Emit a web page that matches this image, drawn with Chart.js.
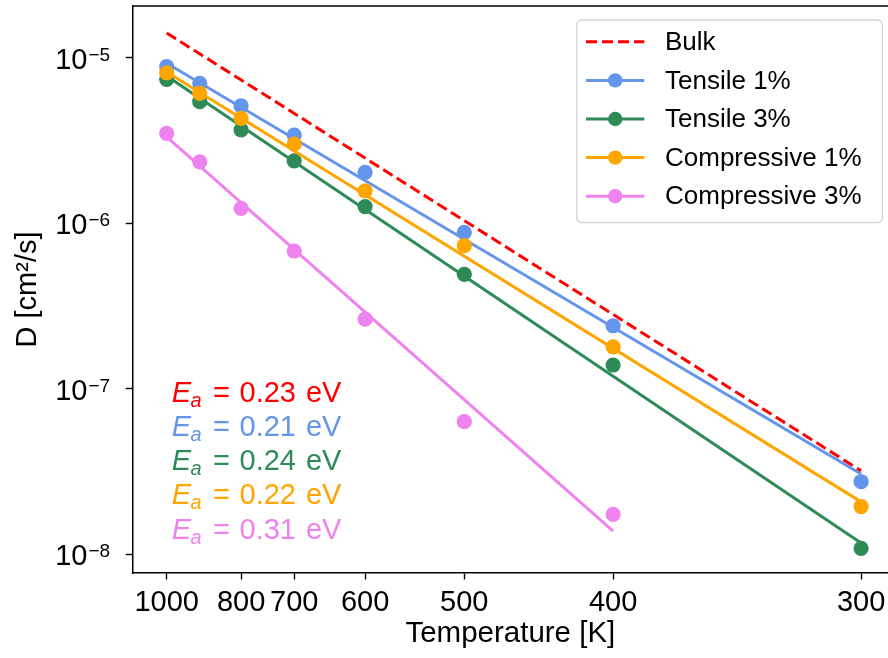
<!DOCTYPE html>
<html><head><meta charset="utf-8">
<script src="https://cdn.jsdelivr.net/npm/chart.js@4.4.0/dist/chart.umd.min.js"></script>
<style>html,body{margin:0;padding:0;background:#fff;overflow:hidden}canvas{display:block}</style>
</head><body>
<canvas id="c" width="888" height="658"></canvas>
<script>
// ---------- data ----------
const temperatures  = [1000, 900, 800, 700, 600, 500, 400, 300];
const tensile1      = [8.82e-6, 7.00e-6, 5.11e-6, 3.41e-6, 2.03e-6, 8.81e-7, 2.40e-7, 2.74e-8];
const tensile3      = [7.40e-6, 5.42e-6, 3.66e-6, 2.38e-6, 1.26e-6, 4.91e-7, 1.39e-7, 1.085e-8];
const compressive1  = [8.11e-6, 6.09e-6, 4.30e-6, 3.01e-6, 1.57e-6, 7.31e-7, 1.79e-7, 1.94e-8];
const compressive3  = [3.49e-6, 2.35e-6, 1.23e-6, 6.79e-7, 2.63e-7, 6.32e-8, 1.74e-8, null];

// fitted Arrhenius lines (end points)
const fitTemps        = [1000, 300];
const fitTempsComp3   = [1000, 400];
const bulkFit         = [1.41e-5, 3.19e-8];
const tensile1Fit     = [9.25e-6, 3.05e-8];
const tensile3Fit     = [7.75e-6, 1.17e-8];
const compressive1Fit = [8.20e-6, 2.07e-8];
const compressive3Fit = [3.32e-6, 1.38e-8];

const seriesNames = ['Bulk', 'Tensile 1%', 'Tensile 3%', 'Compressive 1%', 'Compressive 3%'];
const eaValues    = ['0.23', '0.21', '0.24', '0.22', '0.31'];
const xTickTemps  = [1000, 800, 700, 600, 500, 400, 300];
const xTickLabels = ['1000', '800', '700', '600', '500', '400', '300'];
const yTickExponents = [-5, -6, -7, -8];

// ---------- styles ----------
const COLORS = ['#ff0000', '#6495ed', '#2e8b57', '#ffa500', '#ee82ee'];
const FAM = "'Liberation Sans', Arial, Helvetica, sans-serif";
const MARKER_R = 7.6, LW = 3, DASH = [11, 5];

const inv = T => 1000 / T;
function pts(temps, vals) {
  return temps.map((t, i) => ({x: inv(t), y: vals[i]})).filter(p => p.y != null);
}
function lineDs(label, temps, vals, color, order, dash) {
  return {label, data: pts(temps, vals), showLine: true, borderColor: color, backgroundColor: color,
          borderWidth: LW, borderDash: dash || [], pointRadius: 0, order, borderCapStyle: 'butt'};
}
function pointDs(label, temps, vals, color, order) {
  return {label, data: pts(temps, vals), showLine: false, backgroundColor: color, borderColor: color,
          borderWidth: 0, pointRadius: MARKER_R, pointHoverRadius: MARKER_R, order};
}

const datasets = [
  lineDs('Bulk', fitTemps, bulkFit, COLORS[0], 0, DASH),
  pointDs('Compressive 3%', temperatures, compressive3, COLORS[4], 1),
  lineDs('Compressive 3% fit', fitTempsComp3, compressive3Fit, COLORS[4], 2),
  pointDs('Compressive 1%', temperatures, compressive1, COLORS[3], 3),
  lineDs('Compressive 1% fit', fitTemps, compressive1Fit, COLORS[3], 4),
  pointDs('Tensile 3%', temperatures, tensile3, COLORS[2], 5),
  lineDs('Tensile 3% fit', fitTemps, tensile3Fit, COLORS[2], 6),
  pointDs('Tensile 1%', temperatures, tensile1, COLORS[1], 7),
  lineDs('Tensile 1% fit', fitTemps, tensile1Fit, COLORS[1], 8),
];

// ---------- plugins ----------
const framePlugin = {
  id: 'frame',
  afterDraw(chart) {
    const {ctx, chartArea: a} = chart;
    ctx.save();
    ctx.strokeStyle = '#000'; ctx.lineWidth = 1.5;
    ctx.beginPath(); ctx.moveTo(a.left - 0.75, a.top); ctx.lineTo(a.right + 2, a.top); ctx.stroke();
    ctx.restore();
  }
};

const yLabelPlugin = {
  id: 'yLabels',
  afterDraw(chart) {
    const ctx = chart.ctx, ys = chart.scales.y;
    ctx.save();
    ctx.fillStyle = '#000';
    ctx.textBaseline = 'alphabetic';
    yTickExponents.forEach(e => {
      const py = ys.getPixelForValue(Math.pow(10, e));
      ctx.font = `29px ${FAM}`;
      ctx.textAlign = 'right';
      ctx.fillText('10', 87.5, py + 11);
      ctx.font = `19px ${FAM}`;
      ctx.textAlign = 'left';
      ctx.fillText('\u2212' + Math.abs(e), 88.5, py + 3);
    });
    ctx.restore();
  }
};

const eaPlugin = {
  id: 'eaText',
  afterDraw(chart) {
    const ctx = chart.ctx;
    ctx.save();
    ctx.textBaseline = 'alphabetic';
    ctx.textAlign = 'left';
    eaValues.forEach((v, i) => {
      const by = 401.5 + i * 34.3;
      ctx.fillStyle = COLORS[i];
      ctx.font = `italic 29px ${FAM}`;
      ctx.fillText('E', 171.7, by);
      ctx.font = `italic 20px ${FAM}`;
      ctx.fillText('a', 190.5, by + 5);
      ctx.font = `29px ${FAM}`;
      ctx.fillText('=', 213, by);
      ctx.fillText(v, 239.5, by);
      const w = ctx.measureText(v).width;
      ctx.fillText('eV', 239.5 + w + 10, by);
    });
    ctx.restore();
  }
};

const legendPlugin = {
  id: 'mplLegend',
  afterDraw(chart) {
    const ctx = chart.ctx;
    const bx = 576.7, by = 20, bw = 305.6, bh = 202.7, r = 5;
    ctx.save();
    ctx.beginPath();
    ctx.moveTo(bx + r, by);
    ctx.arcTo(bx + bw, by, bx + bw, by + bh, r);
    ctx.arcTo(bx + bw, by + bh, bx, by + bh, r);
    ctx.arcTo(bx, by + bh, bx, by, r);
    ctx.arcTo(bx, by, bx + bw, by, r);
    ctx.closePath();
    ctx.fillStyle = 'rgba(255,255,255,0.8)';
    ctx.fill();
    ctx.strokeStyle = '#d3d3d3'; ctx.lineWidth = 1.3;
    ctx.stroke();
    seriesNames.forEach((name, i) => {
      const y = 41.8 + i * 38.6;
      ctx.strokeStyle = COLORS[i]; ctx.lineWidth = LW; ctx.lineCap = 'butt';
      ctx.setLineDash(i === 0 ? DASH : []);
      ctx.beginPath(); ctx.moveTo(586, y); ctx.lineTo(644.3, y); ctx.stroke();
      ctx.setLineDash([]);
      if (i > 0) {
        ctx.fillStyle = COLORS[i];
        ctx.beginPath(); ctx.arc(615.2, y, MARKER_R * 0.95, 0, Math.PI * 2); ctx.fill();
      }
      ctx.fillStyle = '#000';
      ctx.font = `26px ${FAM}`;
      ctx.textAlign = 'left'; ctx.textBaseline = 'middle';
      ctx.fillText(name, 665, y + 1);
    });
    ctx.restore();
  }
};

// ---------- chart ----------
new Chart(document.getElementById('c'), {
  type: 'scatter',
  data: {datasets},
  options: {
    responsive: false,
    animation: false,
    events: [],
    layout: {autoPadding: false, padding: {left: 0, top: 6, right: 0, bottom: 0}},
    plugins: {legend: {display: false}, tooltip: {enabled: false}},
    scales: {
      x: {
        type: 'linear',
        min: 0.8858, max: 3.4237,
        afterBuildTicks: s => { s.ticks = xTickTemps.map(t => ({value: inv(t)})); },
        afterFit: s => { s.height = 85; s.paddingLeft = 0; s.paddingRight = 0; },
        ticks: {
          autoSkip: false, maxRotation: 0, minRotation: 0,
          callback: (v, i) => xTickLabels[i],
          font: {family: FAM, size: 29}, color: '#000', padding: 6
        },
        grid: {display: true, drawOnChartArea: false, drawTicks: true, tickLength: 6.5, tickWidth: 1.4, tickColor: '#000'},
        border: {display: true, color: '#000', width: 1.5},
        title: {display: true, text: 'Temperature [K]', color: '#000',
                font: {family: FAM, size: 29.5, lineHeight: 1.2}, padding: {top: 0, bottom: 6}}
      },
      y: {
        type: 'logarithmic',
        min: 7.697e-9, max: 2.053e-5,
        afterBuildTicks: s => { s.ticks = yTickExponents.map(e => ({value: Math.pow(10, e)})); },
        afterFit: s => { s.width = 132.7; s.paddingTop = 0; s.paddingBottom = 0; },
        ticks: {display: false},
        grid: {display: true, drawOnChartArea: false, drawTicks: true, tickLength: 7, tickWidth: 1.4, tickColor: '#000'},
        border: {display: true, color: '#000', width: 1.5},
        title: {display: true, text: 'D [cm\u00b2/s]', color: '#000',
                font: {family: FAM, size: 29, lineHeight: 1.2}, padding: {top: 11, bottom: 0}}
      }
    }
  },
  plugins: [framePlugin, yLabelPlugin, eaPlugin, legendPlugin]
});
</script>
</body></html>
